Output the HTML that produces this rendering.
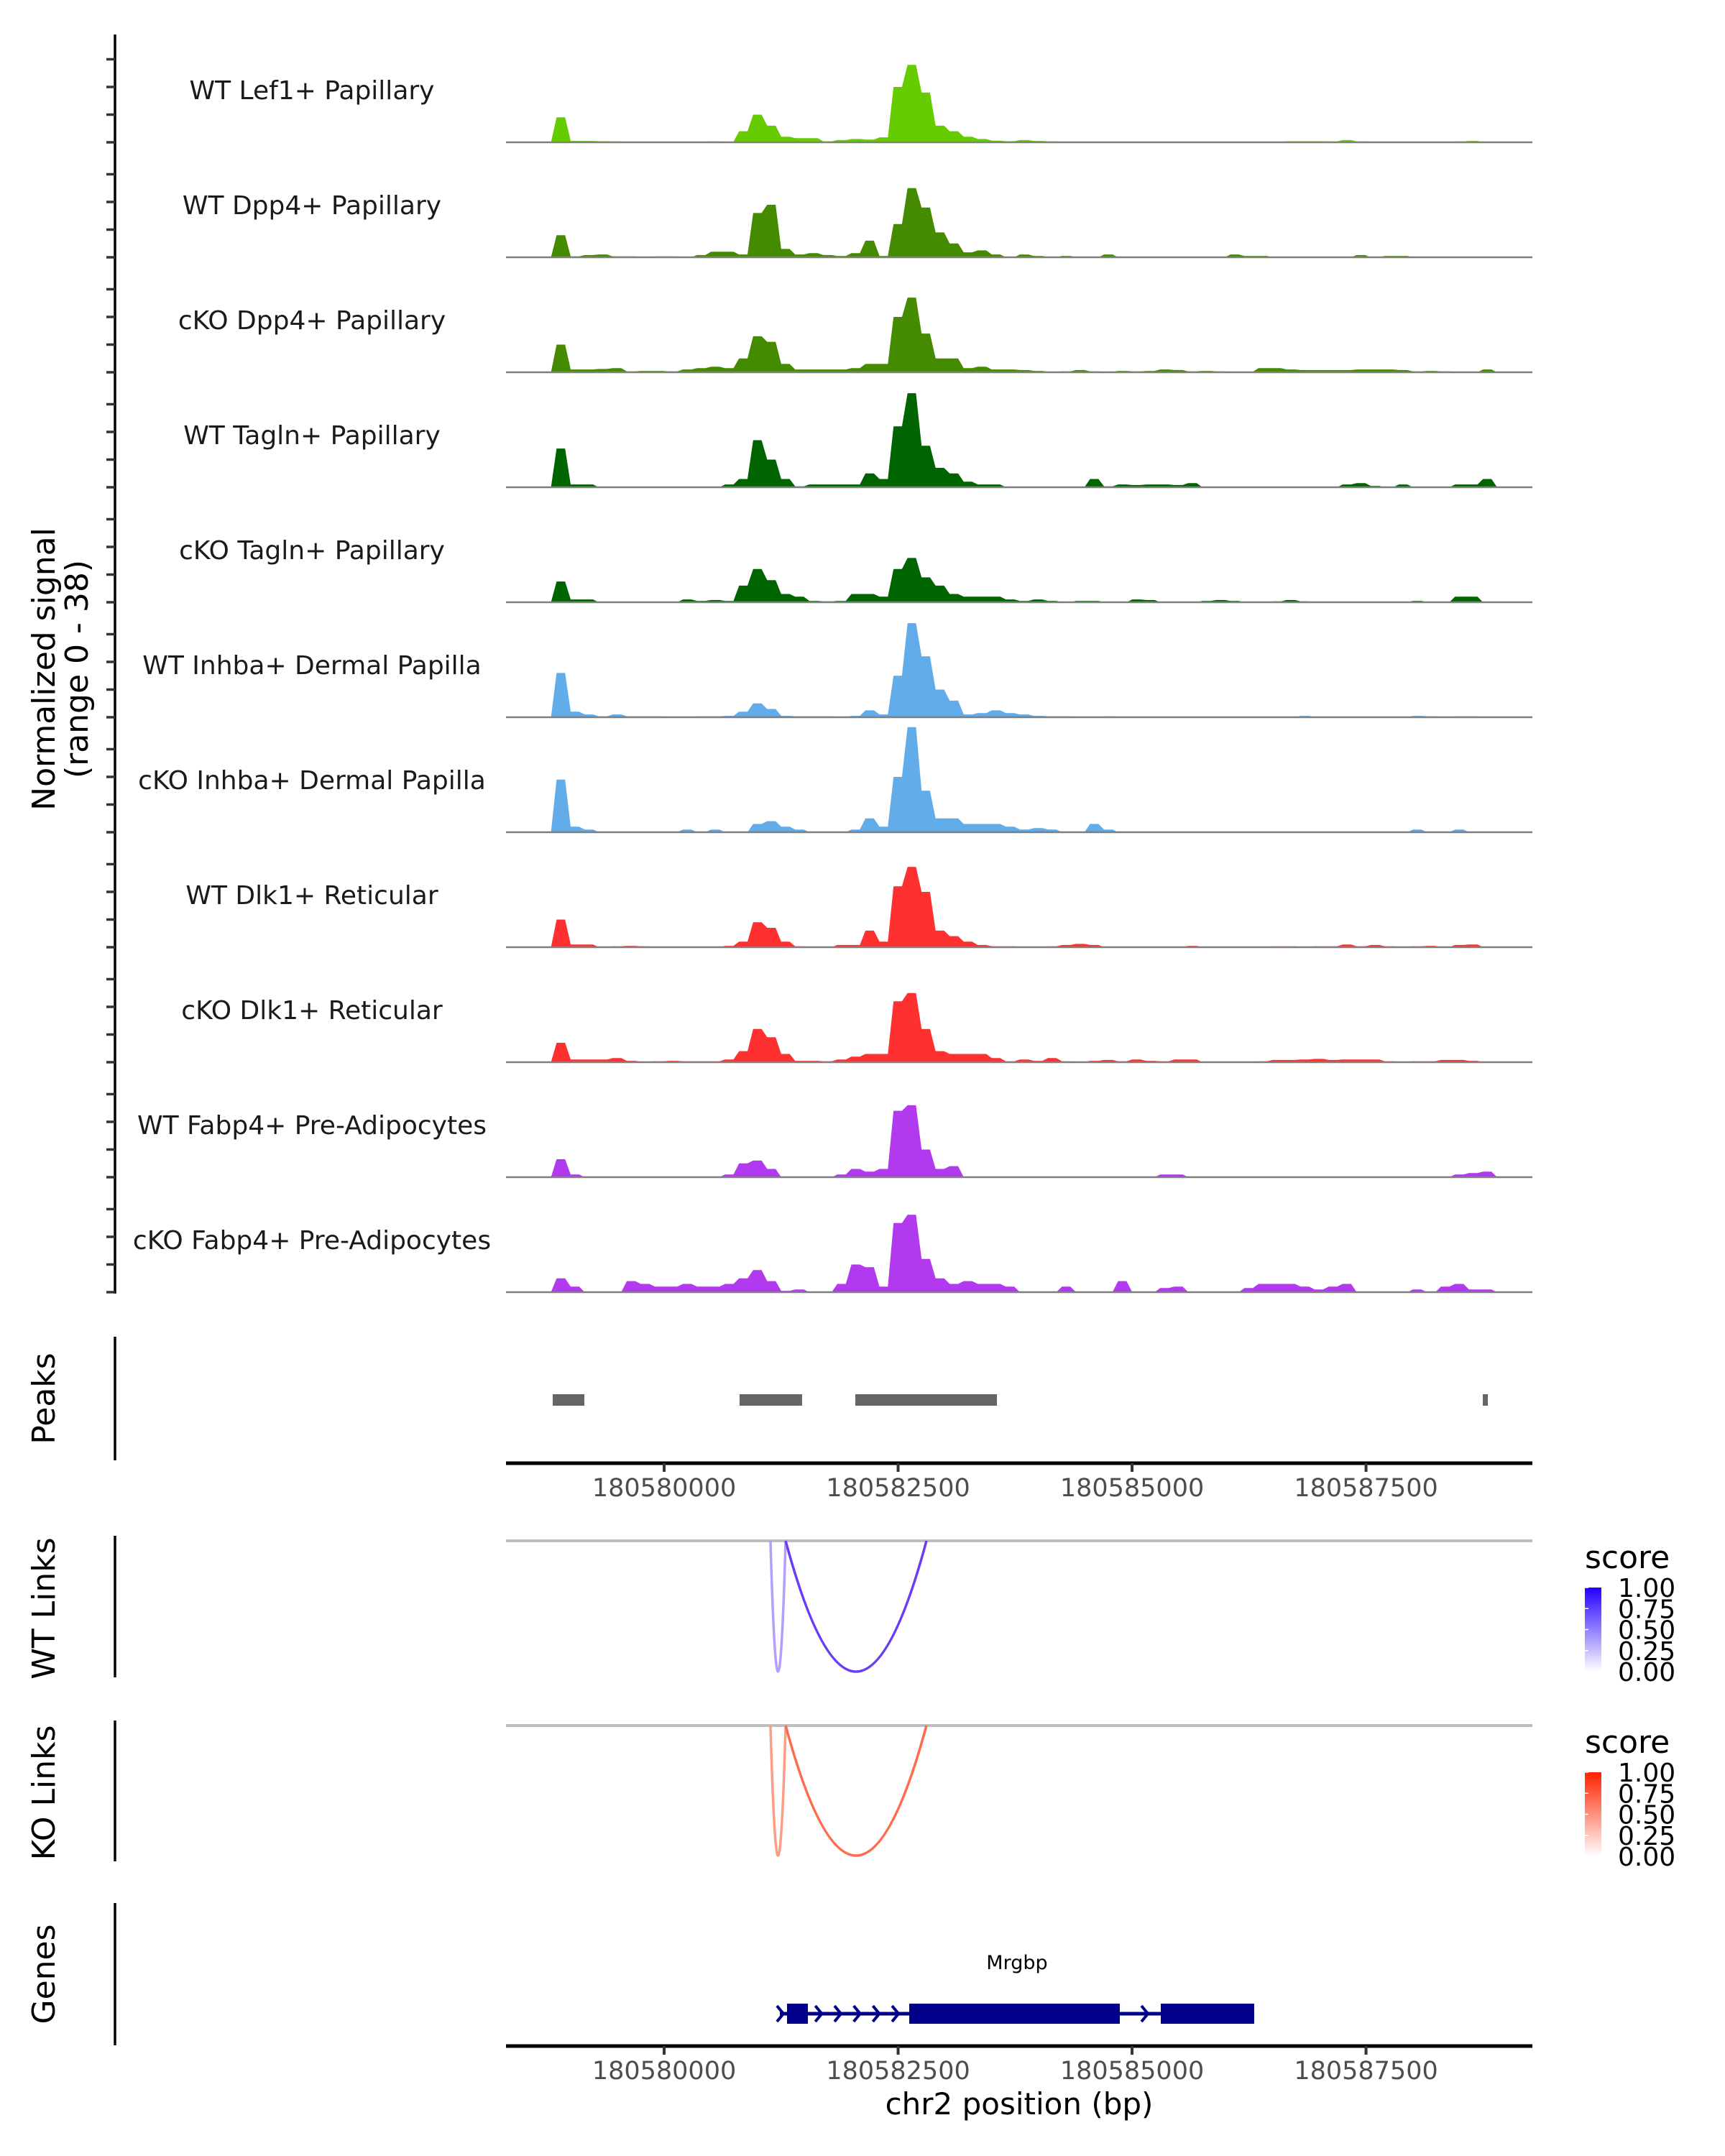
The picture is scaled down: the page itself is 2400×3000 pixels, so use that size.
<!DOCTYPE html>
<html><head><meta charset="utf-8"><style>
html,body{margin:0;padding:0;background:#fff;}
svg{display:block;font-family:"DejaVu Sans","Liberation Sans",sans-serif;}
</style></head><body>
<svg id="fig" width="2400" height="3000" viewBox="0 0 2400 3000" xmlns="http://www.w3.org/2000/svg">
<defs>
<linearGradient id="gWT" x1="0" y1="1" x2="0" y2="0"><stop offset="0" stop-color="#ffffff"/><stop offset="1" stop-color="#2200ff"/></linearGradient>
<linearGradient id="gKO" x1="0" y1="1" x2="0" y2="0"><stop offset="0" stop-color="#ffffff"/><stop offset="1" stop-color="#ff2200"/></linearGradient>
</defs>
<g id="tracks"></g>
<text x="64" y="931" transform="rotate(-90 64 931)" text-anchor="middle" dominant-baseline="middle" font-size="44" fill="#000">Normalized signal</text>
<text x="110" y="931" transform="rotate(-90 110 931)" text-anchor="middle" dominant-baseline="middle" font-size="44" fill="#000">(range 0 - 38)</text>
<g id="lower"></g>
</svg>
<script>
const NS="http://www.w3.org/2000/svg";
const trackNames=["WT Lef1+ Papillary","WT Dpp4+ Papillary","cKO Dpp4+ Papillary","WT Tagln+ Papillary","cKO Tagln+ Papillary","WT Inhba+ Dermal Papilla","cKO Inhba+ Dermal Papilla","WT Dlk1+ Reticular","cKO Dlk1+ Reticular","WT Fabp4+ Pre-Adipocytes","cKO Fabp4+ Pre-Adipocytes"];
const trackColors=["#66cc00","#458b00","#458b00","#006400","#006400","#62acea","#62acea","#ff3030","#ff3030","#b23aee","#b23aee"];
const binStart=180578371;
const binWidth=150;
const sLef1WT=[0,0,0,9,0.5,0.5,0.4,0.3,0,0,0,0,0,0.2,0.3,0.2,4,10,6,2,1.5,1.5,0.3,0.8,1.2,1,1.8,20,28,18,6,4,2,1.2,0.6,0.4,0.8,0.5,0.3,0.2,0,0,0,0,0,0,0.2,0.2,0,0.2,0.2,0,0,0,0,0.4,0.4,0.4,0.3,0.8,0.3,0.2,0.2,0,0.2,0.2,0,0.3,0.5,0,0,0,0];
const sDpp4WT=[0,0,0,8,0.3,0.8,1,0.3,0.3,0,0.3,0.3,0,0.8,2,2,1,16,19,3,1,1.5,0.8,0.5,1.5,6,0.5,12,25,18,9,5,1.8,2.5,1,0,1,0.5,0,0.5,0,0,1,0,0,0,0,0,0,0,0,1,0.5,0.5,0,0,0,0,0,0,0.8,0,0.5,0.5,0,0,0,0,0,0,0,0,0];
const sDpp4KO=[0,0,0,10,1,1,1.2,1.5,0.3,0.5,0.5,0.3,1,1.5,2,1.5,5,13,11,3,1,1,1,1,1.5,3,3,20,27,14,5,5,1.5,2,1,1,0.8,0.5,0.2,0.3,0.8,0.3,0.2,0.5,0.3,0.5,1,0.8,0.3,0.5,0.3,0,0.2,1.5,1.5,1,0.8,0.8,0.8,0.8,1,1,1,0.8,0.3,0.5,0.3,0.2,0,1,0,0,0];
const sTaglnWT=[0,0,0,14,1,1,0,0,0,0,0,0,0,0,0,1,3,17,10,3,0.3,1,1,1,1,5,3,22,34,15,7,5,2,1,1,0,0,0,0,0,0,3,0.3,1,0.8,1,1,0.8,1.5,0,0,0,0,0,0,0,0,0,0,1,1.5,0.5,0,1,0,0,0,1,1,3,0,0,0];
const sTaglnKO=[0,0,0,7.5,1,1,0,0,0,0,0,0,1,0.5,0.8,0.5,6,12,8,3,2,0.5,0.3,0.5,3,3,2,12,16,9,6,3,2,2,2,1,0.5,1,0.5,0,0.5,0.5,0,0,1,0.8,0,0,0,0.5,0.8,0.5,0,0,0.3,0.8,0.3,0,0,0,0,0,0,0,0.5,0,0,2,2,0,0,0,0];
const sInhbaWT=[0,0,0,16,2,1,0.3,1,0.3,0.3,0.3,0,0,0.3,0.3,0.5,2,5,3,0.5,0.3,0.3,0.3,0,0.5,2.5,1,15,34,22,10,6,1,1.5,2.5,1.5,1,0.5,0.3,0.3,0,0,0.3,0,0,0,0,0,0,0,0,0,0,0,0,0,0.5,0,0,0,0,0,0,0,0.5,0.3,0,0.3,0.3,0,0,0,0];
const sInhbaKO=[0,0,0,19,2,1,0,0,0,0,0,0,1,0,1,0,0,3,4,2,1,0,0,0,1,5,2,20,38,15,5,5,3,3,3,2,1,1.5,1,0,0,3,1,0,0,0,0,0,0,0,0,0,0,0,0,0,0,0,0,0,0,0,0,0,1,0,0,1,0,0,0,0,0];
const sDlk1WT=[0,0,0,10,1,1,0,0.3,0.5,0.3,0,0,0,0,0,0.5,2,9,7,2,0.3,0,0,0.8,0.8,6,2,22,29,20,6,4,2,0.8,0.3,0.3,0,0,0.3,0.8,1.2,0.8,0,0,0,0,0,0,0.5,0,0,0,0,0,0.3,0.3,0,0.3,0.3,1,0.3,0.8,0.3,0,0.3,0.5,0,0.8,1,0,0,0,0];
const sDlk1KO=[0,0,0,7,1,1,1,1.5,0.5,0.2,0.3,0.5,0.3,0.3,0.3,1,4,12,9,3,0.5,0.5,0.3,1,2,3,3,22,25,12,4,3,3,3,1.5,0.3,1,0.5,1.5,0.3,0,0.5,0.8,0.3,1,0.5,0.3,1,1,0,0,0,0,0.3,0.8,0.8,1,1.2,0.8,1,1,1,0.3,0,0.3,0.3,0.8,0.8,0.5,0,0,0,0];
const sFabp4WT=[0,0,0,6.5,1,0,0,0,0,0,0,0,0,0,0,1,5,6,3,0,0,0,0,1,3,2,3,24,26,10,3,4,0,0,0,0,0,0,0,0,0,0,0,0,0,0,1,1,0,0,0,0,0,0,0,0,0,0,0,0,0,0,0,0,0,0,0,1,1.5,2,0,0,0];
const sFabp4KO=[0,0,0,5,2,0,0,0,4,3,2,2,3,2,2,3,5,8,4,0.5,1,0,0,3,10,9,2,25,28,12,5,3,4,3,3,2,0,0,0,2,0,0,0,4,0,0,1.5,2,0,0,0,0,1.5,3,3,3,2,1,2,3,0,0,0,0,1,0,2,3,1,1,0,0,0];
const trackSeries=[sLef1WT,sDpp4WT,sDpp4KO,sTaglnWT,sTaglnKO,sInhbaWT,sInhbaKO,sDlk1WT,sDlk1KO,sFabp4WT,sFabp4KO];
const peakStarts=[180578809,180580806,180582043,180588748];
const peakEnds=[180579147,180581474,180583556,180588802];
const xTicks=[180580000,180582500,180585000,180587500];
const linkStarts=[180581136,180581298];
const linkEnds=[180581298,180582803];
const linkScores=[0.35,0.75];
const geneName="Mrgbp";
const geneStart=180581236;
const geneEnd=180586305;
const exonStarts=[180581313,180582619,180585307];
const exonEnds=[180581536,180584869,180586305];
const legendTicks=["1.00","0.75","0.50","0.25","0.00"];

const X0=704,X1=2132,bp0=180578310,pxPerBp=0.1302;
function xs(bp){return X0+(bp-bp0)*pxPerBp;}
const pxPerUnit=3.85;
function ys(base,v){return base-v*pxPerUnit;}
function mk(tag,attrs,parent){const e=document.createElementNS(NS,tag);for(const k in attrs)e.setAttribute(k,attrs[k]);parent.appendChild(e);return e;}

const tg=document.getElementById('tracks');
let ax=mk('line',{x1:160,y1:48,x2:160,y2:1800,stroke:'#000','stroke-width':3.5},tg);


trackSeries.forEach((s,k)=>{
  const base=198+k*160;
  [0,10,20,30].forEach(t=>{
    const tk=mk('line',{x1:148,x2:160,y1:ys(base,t),y2:ys(base,t),stroke:'#333','stroke-width':3.5},tg);
    
    
  });
  const lab=mk('text',{x:434,y:base-60,'text-anchor':'middle','font-size':36,fill:'#1a1a1a'},tg);
  lab.textContent=trackNames[k];
  
  
  let d='M'+xs(binStart).toFixed(1)+','+base;
  s.forEach((v,i)=>{
    const xa=xs(binStart+i*binWidth),xb=xs(binStart+(i+1)*binWidth);
    const y=ys(base,v);
    const w=xb-xa;
    d+=' L'+(xa+w*0.2).toFixed(1)+','+y.toFixed(1)+' L'+(xa+w*0.8).toFixed(1)+','+y.toFixed(1);
  });
  d+=' L'+xs(binStart+s.length*binWidth).toFixed(1)+','+base+' Z';
  const p=mk('path',{d:d,fill:trackColors[k]},tg);
  
  
  const bl=mk('line',{x1:X0,x2:X1,y1:base,y2:base,stroke:'#7f7f7f','stroke-width':2.5},tg);
  
  
});

const lg=document.getElementById('lower');
function panelTitle(txt,cy,name){
  const t=mk('text',{x:64,y:cy,transform:'rotate(-90 64 '+cy+')','text-anchor':'middle','dominant-baseline':'middle','font-size':44,fill:'#000'},lg);
  t.textContent=txt;
  
  
}
function vAxis(y1,y2){
  const l=mk('line',{x1:160,x2:160,y1:y1,y2:y2,stroke:'#000','stroke-width':3.5},lg);
  
  
}
function xAxis(y,name){
  const l=mk('line',{x1:X0,x2:X1,y1:y,y2:y,stroke:'#000','stroke-width':5},lg);
  
  
  xTicks.forEach(t=>{
    const tk=mk('line',{x1:xs(t),x2:xs(t),y1:y,y2:y+12,stroke:'#333','stroke-width':4},lg);
    
    
    const tl=mk('text',{x:xs(t),y:y+46,'text-anchor':'middle','font-size':35,fill:'#4d4d4d'},lg);
    tl.textContent=String(t);
    
    
  });
}
panelTitle('Peaks',1946,'peaks-title');vAxis(1860,2032);
peakStarts.forEach((s,i)=>{
  const r=mk('rect',{x:xs(s),y:1940,width:Math.max(6,xs(peakEnds[i])-xs(s)),height:16,fill:'#666666'},lg);
  
  
});
xAxis(2036,'peaks-x-axis');

function links(top,bottom,cols,title,grad,legY,name){
  panelTitle(title,(top+bottom)/2+3,name+'-title');vAxis(top-7,bottom+8);
  const bl=mk('line',{x1:X0,x2:X1,y1:top,y2:top,stroke:'#bebebe','stroke-width':4},lg);
  
  
  linkStarts.forEach((s,i)=>{
    const xa=xs(s),xb=xs(linkEnds[i]);
    const cy=top+2*(bottom-top);
    const p=mk('path',{d:`M${xa},${top} Q${(xa+xb)/2},${cy} ${xb},${top}`,fill:'none',stroke:cols[i],'stroke-width':3.5},lg);
    
    
  });
  const st=mk('text',{x:2205,y:legY,'font-size':44,fill:'#000'},lg);
  st.textContent='score';
  
  
  const cb=mk('rect',{x:2205,y:legY+27,width:23,height:117,fill:'url(#'+grad+')'},lg);
  
  
  legendTicks.forEach((t,i)=>{
    const yy=legY+27+i*117/4;
    const tl=mk('text',{x:2251,y:yy+13,'font-size':36,fill:'#000'},lg);
    tl.textContent=t;
    
    
    const tk=mk('line',{x1:2205,x2:2210,y1:yy,y2:yy,stroke:'#fff','stroke-width':1.5},lg);
    
    
  });
}
links(2144,2326,['#b49dff','#6a3df5'],'WT Links','gWT',2182,'wt-links');
links(2401,2582,['#ff9c85','#ff6b4f'],'KO Links','gKO',2439,'ko-links');

panelTitle('Genes',2747,'genes-title');vAxis(2648,2846);
const gy=2802;
const gl=mk('line',{x1:xs(geneStart),x2:xs(geneEnd),y1:gy,y2:gy,stroke:'#00008b','stroke-width':5},lg);


for(let bp=geneStart;bp<geneEnd;bp+=205){
  const x=xs(bp);
  const inExon=exonStarts.some((s,i)=>bp>=s-60&&bp<=exonEnds[i]+60);
  if(inExon)continue;
  const c=mk('path',{d:`M${x-4},${gy-11} L${x+5},${gy} L${x-4},${gy+11}`,fill:'none',stroke:'#00008b','stroke-width':4},lg);
  
  
}
exonStarts.forEach((s,i)=>{
  const r=mk('rect',{x:xs(s),y:gy-14,width:xs(exonEnds[i])-xs(s),height:28,fill:'#00008b'},lg);
  
  
});
const gn=mk('text',{x:(xs(geneStart)+xs(geneEnd))/2,y:2740,'text-anchor':'middle','font-size':27,fill:'#000'},lg);
gn.textContent=geneName;


xAxis(2847,'genes-x-axis');
const xt=mk('text',{x:1418,y:2942,'text-anchor':'middle','font-size':42,fill:'#000'},lg);
xt.textContent='chr2 position (bp)';


</script>
</body></html>
